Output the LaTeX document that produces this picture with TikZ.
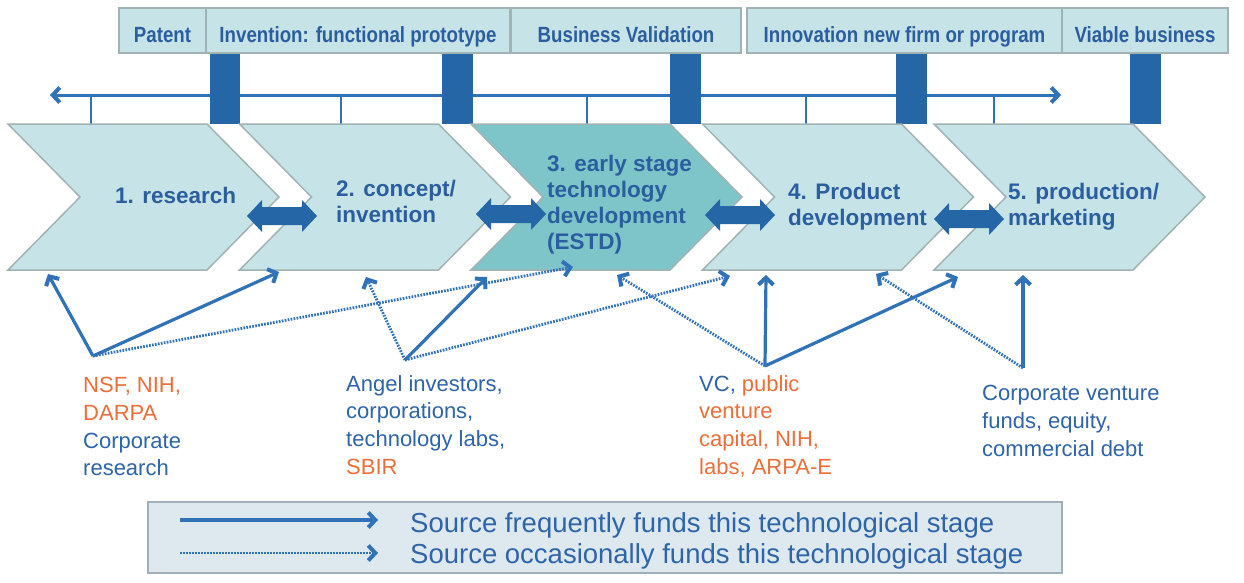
\documentclass[tikz,border=0pt]{standalone}
\usepackage{fontspec}
\setmainfont{Liberation Sans}
\newfontfamily\narrowsf[FakeStretch=0.85]{Liberation Sans}
\usetikzlibrary{arrows.meta}
\definecolor{txtblue}{HTML}{2B5E9E}
\definecolor{lineblue}{HTML}{2F72B8}
\definecolor{srcblue}{HTML}{2E64A8}
\definecolor{orng}{HTML}{EC6F3A}
\definecolor{barblue}{HTML}{2466A6}
\definecolor{lightfill}{HTML}{C6E3E7}
\definecolor{darkfill}{HTML}{7EC5C9}
\definecolor{bordergray}{HTML}{A2B3B4}
\definecolor{legfill}{HTML}{DDE8EF}
\definecolor{legborder}{HTML}{9FB0BB}
\tikzset{
  mybarb/.tip={Straight Barb[length=7pt,width=15pt,line width=4pt]},
  topbox/.style={draw=bordergray, line width=1.5pt, fill=lightfill, minimum height=45pt,
    inner sep=0pt, text height=23pt, text depth=0pt, text=txtblue,
    font=\narrowsf\bfseries\fontsize{22}{25}\selectfont},
  chevshape/.style={draw=bordergray, line width=1.5pt},
  chevtext/.style={text=txtblue, align=left, anchor=west, inner sep=0pt,
    font=\bfseries\fontsize{22.5}{26}\selectfont},
  srctext/.style={text=srcblue, align=left, anchor=north west, inner sep=0pt,
    font=\fontsize{22}{27.8}\selectfont},
  legtext/.style={text=srcblue, anchor=west, inner sep=0pt, font=\fontsize{27.5}{30}\selectfont},
  barfill/.style={fill=barblue},
  timeline/.style={draw=lineblue, line width=3pt, {mybarb}-{mybarb}},
  tickline/.style={draw=lineblue, line width=2.2pt},
  often/.style={draw=lineblue, line width=3.2pt, -{mybarb}},
  sometimes/.style={draw=lineblue, line width=2.8pt, dash pattern=on 1.7pt off 1.3pt, -{mybarb}},
}
\newcommand\chevpath[2]{\path[chevshape, fill=#2] (#1,124) -- ++(199,0) -- ++(72,73) -- ++(-72,73) -- ++(-199,0) -- ++(72,-73) -- cycle;}
\newcommand\dblarr[2]{\fill[barfill] (#1,#2) ++(-35,0) -- ++(15,-16) -- ++(0,7) -- ++(40,0) -- ++(0,-7) -- ++(15,16) -- ++(-15,16) -- ++(0,-7) -- ++(-40,0) -- ++(0,7) -- cycle;}
\begin{document}
\begin{tikzpicture}[x=1pt,y=-1pt]
\useasboundingbox (0,0) rectangle (1244,582);
\fill[white] (0,0) rectangle (1244,582);

% timeline
\coordinate (tlL) at (50,95);
\coordinate (tlR) at (1061,95);
\draw[timeline] (tlL) -- (tlR);
\foreach \x in {91,341,587,806,994} {\draw[tickline] (\x,95) -- (\x,124);}

% milestone bars
\fill[barfill] (210,53) rectangle (240,124);
\fill[barfill] (442,53) rectangle (473,124);
\fill[barfill] (670,53) rectangle (701,124);
\fill[barfill] (896,53) rectangle (927,124);
\fill[barfill] (1130,53) rectangle (1161,124);

% top boxes
\node[topbox, minimum width=87pt] (patent) at (162.5,30.5) {Patent};
\node[topbox, minimum width=304pt] (invent) at (358,30.5) {Invention: functional prototype};
\node[topbox, minimum width=230pt] (bizval) at (626,30.5) {Business Validation};
\node[topbox, minimum width=315pt] (innov) at (904.5,30.5) {Innovation new firm or program};
\node[topbox, minimum width=166pt] (viable) at (1145,30.5) {Viable business};

% chevrons
\chevpath{8}{lightfill}
\chevpath{239.5}{lightfill}
\chevpath{471}{darkfill}
\chevpath{702.5}{lightfill}
\chevpath{934}{lightfill}

\node[chevtext] (c1) at (115,195) {1. research};
\node[chevtext] (c2) at (336,201) {2. concept/\\invention};
\node[chevtext] (c3) at (547,205) {3. early stage\\technology\\development\\(ESTD)};
\node[chevtext] (c4) at (788,207) {4. Product\\development};
\node[chevtext] (c5) at (1008,207) {5. production/\\marketing};

% double arrows between stages
\dblarr{282}{216}
\dblarr{511}{214}
\dblarr{740}{215}
\dblarr{969}{219}

% funding sources
\coordinate (sA) at (93,356);
\coordinate (sB) at (405,360);
\coordinate (sC) at (765,366);
\coordinate (sD) at (1023,368);

\coordinate (tA1) at (48,274);
\coordinate (tA2) at (279,272);
\coordinate (tA3) at (573,267);
\coordinate (tB2) at (366,277);
\coordinate (tB3) at (487,277);
\coordinate (tB4) at (730,276);
\coordinate (tC3) at (617,275);
\coordinate (tC4) at (766,275);
\coordinate (tC5) at (958,277);
\coordinate (tD4) at (876,274);
\coordinate (tD5) at (1023,275);

\draw[often] (sA) -- (tA1);
\draw[often] (sA) -- (tA2);
\draw[sometimes] (sA) -- (tA3);
\draw[sometimes] (sB) -- (tB2);
\draw[often] (sB) -- (tB3);
\draw[sometimes] (sB) -- (tB4);
\draw[sometimes] (sC) -- (tC3);
\draw[often] (sC) -- (tC4);
\draw[often] (sC) -- (tC5);
\draw[sometimes] (sD) -- (tD4);
\draw[often] (sD) -- (tD5);

\node[srctext] (srcAtext) at (83,377) {\textcolor{orng}{NSF, NIH,}\\\textcolor{orng}{DARPA}\\Corporate\\research};
\node[srctext] (srcBtext) at (346,375) {Angel investors,\\corporations,\\technology labs,\\\textcolor{orng}{SBIR}};
\node[srctext] (srcCtext) at (699,375) {VC, \textcolor{orng}{public}\\\textcolor{orng}{venture}\\\textcolor{orng}{capital, NIH,}\\\textcolor{orng}{labs, ARPA-E}};
\node[srctext] (srcDtext) at (982,385) {Corporate venture\\funds, equity,\\commercial debt};

% legend
\draw[draw=legborder, fill=legfill, line width=1.5pt] (148,502) rectangle (1062,573);
\coordinate (lga) at (180,520);
\coordinate (lgb) at (378,520);
\coordinate (lgc) at (180,553);
\coordinate (lgd) at (378,553);
\draw[often] (lga) -- (lgb);
\draw[sometimes] (lgc) -- (lgd);
\node[legtext] (leg1) at (410,525) {Source frequently funds this technological stage};
\node[legtext] (leg2) at (410,556) {Source occasionally funds this technological stage};
\end{tikzpicture}
\end{document}
